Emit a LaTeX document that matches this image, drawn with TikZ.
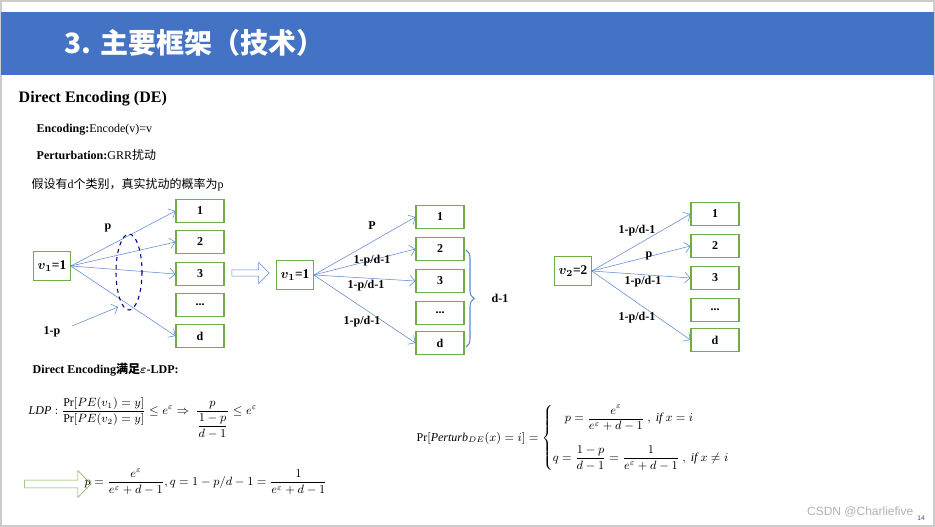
\documentclass[tikz,border=0pt]{standalone}
\usepackage{fontspec}
\usepackage{amsmath}
\setmainfont{Liberation Serif}
\newfontfamily\cjk{Noto Sans CJK SC}
\newfontfamily\titlefont{Noto Sans CJK SC}
\newfontfamily\wmfont{Liberation Sans}
\usetikzlibrary{positioning,shapes,arrows,arrows.meta,decorations.pathreplacing}

\definecolor{bandblue}{HTML}{4472C4}
\definecolor{boxgreen}{HTML}{70AD47}
\definecolor{arrowblue}{HTML}{5B87D0}
\newcommand{\dotslab}{...}

\begin{document}
\begin{tikzpicture}[
		x=0.75pt,y=-0.75pt,
		valbox/.style={draw=boxgreen,thick,minimum width=36pt,minimum height=17pt,font=\bfseries\small,inner sep=1pt},
		srcbox/.style={draw=boxgreen,thick,minimum height=22pt,inner sep=3pt,font=\bfseries},
		prob/.style={font=\bfseries\small,inner sep=1pt},
		flow/.style={draw=arrowblue,-{Straight Barb[length=4pt]}},
		hollow/.style={single arrow,draw,minimum height=28pt,minimum width=16pt,single arrow head extend=3pt,inner sep=1pt}
		]
		\useasboundingbox (0,0) rectangle (935,527);
		\draw[gray!40,line width=1pt] (1,1) rectangle (934,526);
		\fill[bandblue] (1,12) rectangle (934,75);
		\node[anchor=west,text=white,font=\titlefont\bfseries\fontsize{21}{24}\selectfont] (title) at (60,43) {3. 主要框架（技术）};
		% header texts
		\node[anchor=west,font=\bfseries\large] (head) at (14,99) {Direct Encoding (DE)};
		\node[anchor=west,font=\small] (enc) at (32,130) {\textbf{Encoding:}Encode(v)=v};
		\node[anchor=west,font=\small] (pert) at (32,155) {\textbf{Perturbation:}GRR{\cjk 扰动}};
		\node[anchor=west,font=\small] (assume) at (27,185) {{\cjk 假设有}d{\cjk 个类别，真实扰动的概率为}p};
		% left group
		\node[srcbox] (a0) at (52,266) {$\boldsymbol{v_1}$=1};
		\foreach \t/\y/\s in {1/211/1,2/242/2,3/274/3,e/305/\dotslab,d/336/d}
			\node[valbox] (a\t) at (200,\y) {\s};
		\foreach \t in {1,2,3,d}
			\draw[flow] (a0.east) -- (a\t.west);
		\draw[dashed,thick,draw=blue!50!black] (129,272) ellipse (13 and 38);
		\coordinate (in) at (72,326);
		\coordinate (inend) at (118,307);
		\draw[flow] (in) -- (inend);
		\node[prob] (lp) at (108,228) {p};
		\node[prob] (lq) at (52,332) {1-p};
		\node[hollow,draw=arrowblue] (mid) at (249,273) {};
		% middle group
		\node[srcbox] (b0) at (295,275) {$\boldsymbol{v_1}$=1};
		\foreach \t/\y/\s in {1/217/1,2/249/2,3/281/3,e/313/\dotslab,d/343/d}
			\node[valbox] (b\t) at (440,\y) {\s};
		\foreach \t in {1,2,3,d}
			\draw[flow] (b0.east) -- (b\t.west);
		\node[prob] at (372,226) {P};
		\node[prob] at (372,261) {1-p/d-1};
		\node[prob] at (366,286) {1-p/d-1};
		\node[prob] at (362,322) {1-p/d-1};
		\draw[arrowblue,thick,decorate,decoration={brace,amplitude=6pt}] (466,250) -- (466,347);
		\node[prob] at (500,298) {d-1};
		% right group
		\node[srcbox] (c0) at (573,271) {$\boldsymbol{v_2}$=2};
		\foreach \t/\y/\s in {1/214/1,2/246/2,3/278/3,e/310/\dotslab,d/340/d}
			\node[valbox] (c\t) at (715,\y) {\s};
		\foreach \t in {1,2,3,d}
			\draw[flow] (c0.east) -- (c\t.west);
		\node[prob] at (637,231) {1-p/d-1};
		\node[prob] at (649,256) {p};
		\node[prob] at (643,282) {1-p/d-1};
		\node[prob] at (637,318) {1-p/d-1};
		% formulas
		\node[anchor=west,font=\bfseries\small] (ldp) at (28,370) {Direct Encoding{\cjk 满足}$\boldsymbol{\varepsilon}$-LDP:};
		\node[anchor=west,font=\small] (f1) at (24,418) {$\mathit{LDP}:\dfrac{\Pr[PE(v_1)=y]}{\Pr[PE(v_2)=y]}\le e^{\varepsilon}\Rightarrow\ \dfrac{p}{\dfrac{1-p}{d-1}}\le e^{\varepsilon}$};
		\node[hollow,draw=boxgreen,minimum height=50pt,minimum width=20pt] (res) at (56,484) {};
		\node[anchor=west,font=\small] (f2) at (80,482) {$p=\dfrac{e^{\varepsilon}}{e^{\varepsilon}+d-1},q=1-p/d-1=\dfrac{1}{e^{\varepsilon}+d-1}$};
		\node[anchor=west,font=\small] (f3) at (412,438) {$\Pr[\mathit{Perturb}_{DE}(x)=i]=\begin{cases}\quad p=\dfrac{e^{\varepsilon}}{e^{\varepsilon}+d-1}\ ,\ \mathit{if}\ x=i\\[14pt] q=\dfrac{1-p}{d-1}=\dfrac{1}{e^{\varepsilon}+d-1}\ ,\ \mathit{if}\ x\ne i\end{cases}$};
		\node[anchor=east,text=gray!60,font=\wmfont\small] (wm) at (918,512) {CSDN @Charliefive};
		\node[text=bandblue!70!black,font=\wmfont\tiny] (pg) at (921,518) {14};
	\end{tikzpicture}
\end{document}
